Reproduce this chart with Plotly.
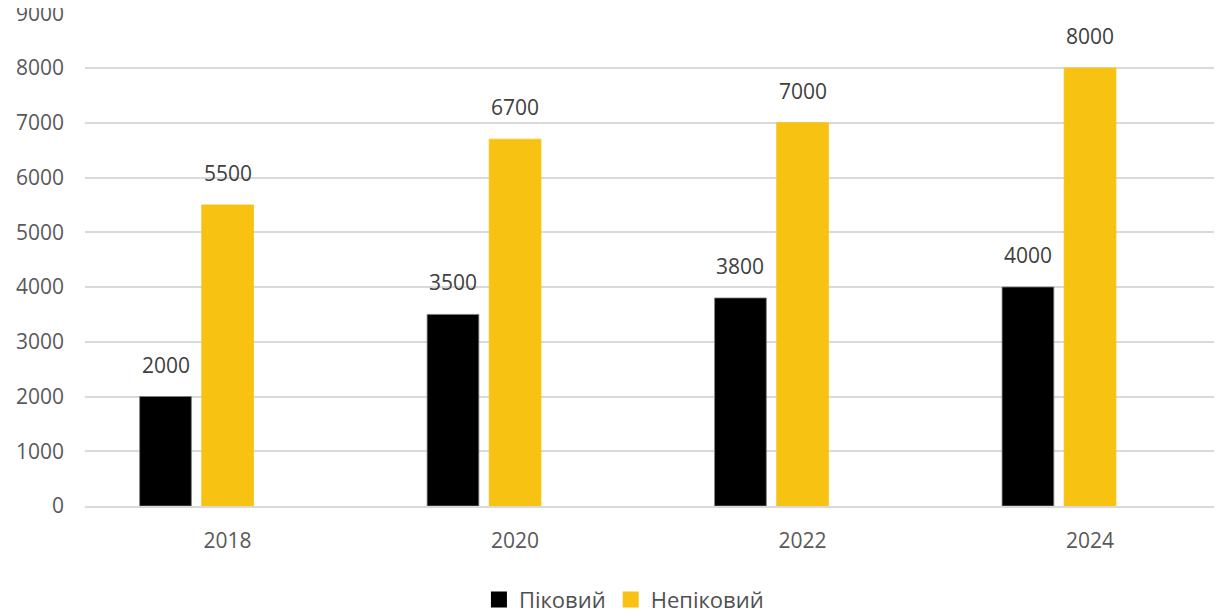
import plotly.graph_objects as go

years = ["2018", "2020", "2022", "2024"]
peak = [2000, 3500, 3800, 4000]
offpeak = [5500, 6700, 7000, 8000]
series_names = ["Піковий", "Непіковий"]
colors = ["#000000", "#F8C213"]
y_ticks = [0, 1000, 2000, 3000, 4000, 5000, 6000, 7000, 8000, 9000]

FONT = "Open Sans"
# page body has an 8px margin, so the figure is drawn offset by (8, 8)
W, H = 1214, 606
L, R, T, B = 77, 0, 5, 108
bar_w = 0.18
offsets = [-0.306, -0.09]

fig = go.Figure()
for name, vals, col, off in zip(series_names, [peak, offpeak], colors, offsets):
    fig.add_trace(go.Bar(
        x=years, y=vals, name=name, width=bar_w, offset=off,
        marker=dict(color=col, line=dict(color="#7f7f7f" if col == "#000000" else col, width=0.8)),
        showlegend=False, hoverinfo="x+y",
    ))
    fig.add_trace(go.Scatter(
        x=[None], y=[None], mode="markers", name=name,
        marker=dict(symbol="square", size=16, color=col),
    ))
    # data labels
    for i, v in enumerate(vals):
        fig.add_annotation(
            x=i + off + bar_w / 2, y=v, xref="x", yref="y",
            text=str(v), showarrow=False, yanchor="bottom", yshift=16,
            font=dict(family=FONT, size=21, color="#404040"),
        )

fig.update_layout(
    width=W, height=H,
    margin=dict(l=L, r=R, t=T, b=B, pad=0, autoexpand=False),
    paper_bgcolor="white", plot_bgcolor="white",
    barmode="overlay",
    font=dict(family=FONT, size=21, color="#595959"),
    legend=dict(orientation="h", x=0.474, xanchor="center", y=-0.19, yanchor="middle",
                font=dict(family=FONT, size=22, color="#505050"),
                itemsizing="trace", tracegroupgap=0, itemwidth=30),
    showlegend=True,
)
fig.update_xaxes(
    type="category", range=[-0.496, 3.459], showgrid=False, automargin=False,
    showline=True, linecolor="#d9d9d9", linewidth=1.5,
    ticks="", ticklabelstandoff=15,
    tickfont=dict(family=FONT, size=21, color="#595959"),
)
fig.update_yaxes(
    range=[0, 9005], tickvals=y_ticks, showgrid=True, gridcolor="#d9d9d9", gridwidth=1.5,
    zeroline=False, showline=False, ticks="", ticklabelstandoff=20, automargin=False,
    ticklabeloverflow="allow",
    tickfont=dict(family=FONT, size=21, color="#595959"),
)

fig.write_html("out.html")
